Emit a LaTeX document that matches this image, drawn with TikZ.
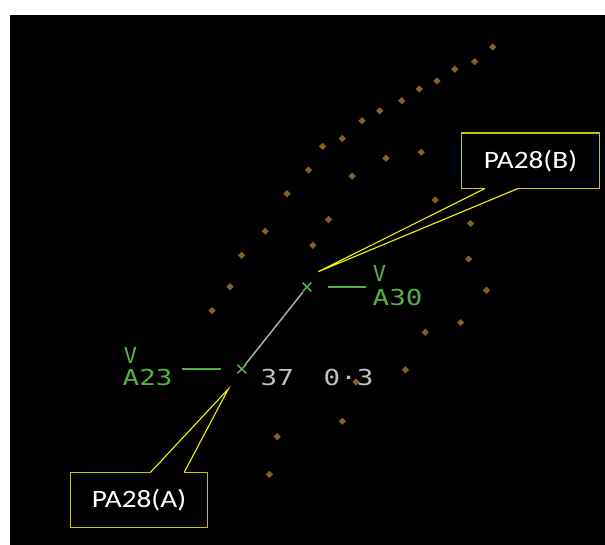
\documentclass[tikz,border=0pt]{standalone}
\usepackage{fontspec}
\newfontfamily\calfont{Carlito}
\newfontfamily\radarfont{DejaVu Sans Mono}
\definecolor{radargreen}{RGB}{84,178,68}
\definecolor{radargray}{RGB}{192,192,192}
\definecolor{dotbrown}{RGB}{134,98,34}
\definecolor{calloutedge}{RGB}{200,196,0}
\definecolor{tailyellow}{RGB}{245,245,0}
\definecolor{trackgray}{RGB}{170,170,170}
\begin{document}
\begin{tikzpicture}[x=1pt,y=-1pt,
  radartext/.style={font=\radarfont\fontsize{22}{22}\selectfont,inner sep=0pt,anchor=base west},
  greentext/.style={radartext,text=radargreen},
  graytext/.style={radartext,text=radargray},
  leadline/.style={draw=radargreen,line width=2pt},
  markerx/.style={draw=radargreen,line width=1.5pt},
  trackline/.style={draw=trackgray,line width=1.5pt},
  calloutbox/.style={fill=black,text=white,font=\calfont\fontsize{25}{25}\selectfont,inner sep=0pt,minimum height=55pt},
  boxedge/.style={draw=calloutedge,line width=1.1pt},
  tailline/.style={draw=tailyellow,line width=1.1pt,line join=miter}]
\useasboundingbox (0,0) rectangle (605,545);
\fill[white] (0,0) rectangle (605,545);
\fill[black] (10,15) rectangle (605,545);
% dots
\foreach \px/\py in {492.7/47,474.6/61.6,454.7/69.3,437/81,419.3/89,401.7/100.7,379.7/110.7,362/120.7,342.3/138.5,322.6/146.3,308.5/170,287/193.7,265.3/231.2,241.6/255.3,230/286.8,212/310.6,421.3/152.2,386/158.2,352.1/176.1,328.5/219.5,312.8/245.4,435.3/200,470.5/223.4,468.6/259,486.5/290.2,460.7/322.6,425.3/332.3,405.4/369.8,356/382,342.3/421.3,277.2/436.8,269.3/474.4}
  \fill[dotbrown] (\px,\py) +(0,-3.6) -- +(3.6,0) -- +(0,3.6) -- +(-3.6,0) -- cycle;
% aircraft positions
\coordinate (A) at (241.7,369);
\coordinate (B) at (307,287);
\draw[markerx] (A) ++(-4.3,-4.3) -- ++(8.6,8.6) (A) ++(-4.3,4.3) -- ++(8.6,-8.6);
\draw[markerx] (B) ++(-4.3,-4.3) -- ++(8.6,8.6) (B) ++(-4.3,4.3) -- ++(8.6,-8.6);
\draw[trackline, shorten <=5.5pt, shorten >=6.5pt] (A) -- (B);
% labels
\node[greentext,anchor=base] (va) at (130.5,363.3) {V};
\node[greentext] (a23) at (122.5,385.7) {\scalebox{1.25}[1]{A23}};
\node[greentext,anchor=base] (vb) at (379.5,281.5) {V};
\node[greentext] (a30) at (372.5,305.7) {\scalebox{1.25}[1]{A30}};
\node[graytext] (alt) at (260.5,385.3) {\scalebox{1.25}[1]{37}};
\node[graytext] (sep) at (323.5,385.3) {\scalebox{1.25}[1]{0·3}};
\draw[leadline] ([xshift=9.5pt]a23.east |- A) -- ([xshift=-21pt]A);
\draw[leadline] ([xshift=21pt]B) -- ([xshift=-6.5pt]a30.west |- B);
% callouts
\coordinate (tipB) at (318.3,271.7);
\coordinate (tipA) at (228.3,389);
\node[calloutbox,minimum width=137pt] (pb) at (530.5,160.7) {\scalebox{1.17}[1]{PA28(B)}};
\node[calloutbox,minimum width=136.6pt] (pa) at (139,499.8) {\scalebox{1.17}[1]{PA28(A)}};
\draw[boxedge] ([xshift=-12.2pt]pb.south) -- (pb.south east) -- (pb.north east) -- (pb.north west) -- (pb.south west) -- ([xshift=-45.5pt]pb.south);
\draw[tailline] ([xshift=-45.5pt]pb.south) -- (tipB) -- ([xshift=-12.2pt]pb.south);
\draw[boxedge] ([xshift=11.7pt]pa.north) -- (pa.north west) -- (pa.south west) -- (pa.south east) -- (pa.north east) -- ([xshift=45.3pt]pa.north);
\draw[tailline] ([xshift=11.7pt]pa.north) -- (tipA) -- ([xshift=45.3pt]pa.north);
\end{tikzpicture}
\end{document}
